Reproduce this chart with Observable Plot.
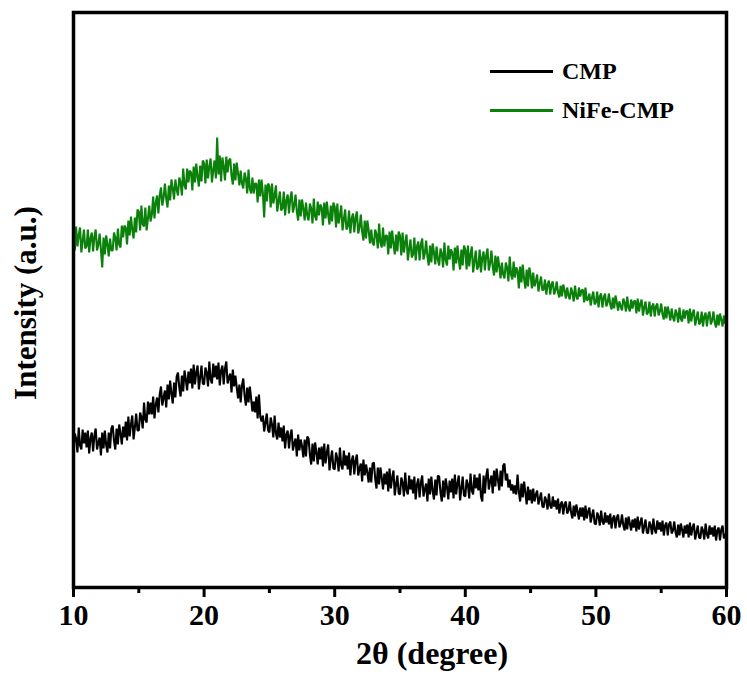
<!DOCTYPE html>
<html>
<head>
<meta charset="utf-8">
<script src="https://cdn.jsdelivr.net/npm/d3@7"></script>
<script src="https://cdn.jsdelivr.net/npm/@observablehq/plot@0.6"></script>
<style>
  html, body { margin: 0; padding: 0; background: #fff; }
  #chart { position: relative; width: 747px; height: 682px; }
  .leg { position: absolute; display: flex; align-items: center; height: 30px;
         font-family: "Liberation Serif", "Times New Roman", serif; font-weight: bold; font-size: 24px; color: #000; }
  .leg .sw { display: inline-block; width: 63px; height: 3px; margin-right: 9px; }
</style>
</head>
<body>
<div id="chart"></div>
<script>
// 2θ sampling: start 10°, step 0.1°
const thetaStart = 10;
const thetaStep = 0.1;
const xMajorTicks = [10, 20, 30, 40, 50, 60];
const xMinorTicks = [15, 25, 35, 45, 55];
const seriesNames = ["CMP", "NiFe-CMP"];
const seriesColors = ["#000000", "#0b800b"];

// NiFe-CMP intensity (a.u.), one row per degree (10.0 … 10.9, 11.0 … ), last value at 60.0
const nifeIntensity = [
368,347,371,351,362,370,345,356,368,349,
351,368,345,359,365,346,361,368,347,353,
364,348,330,360,343,362,353,341,359,347,
347,365,360,347,369,353,350,372,360,372,
370,353,377,362,381,368,359,380,365,388,
386,367,392,373,371,390,367,379,392,376,
383,401,379,395,402,384,402,410,392,400,
414,399,390,412,397,418,409,398,418,408,
402,420,415,402,429,412,408,429,415,427,
425,407,431,415,434,421,411,432,416,437,
434,414,438,419,431,439,415,427,437,419,
460,423,442,416,440,431,417,441,425,437,
439,422,413,434,417,435,424,412,427,414,
409,425,419,404,428,409,404,420,404,414,
414,395,418,401,418,404,380,413,396,414,
411,390,414,394,402,412,386,396,406,387,
389,406,382,397,403,384,399,406,385,392,
403,386,377,398,381,398,389,377,395,382,
377,394,389,374,399,381,377,396,382,393,
390,372,395,379,396,383,373,392,376,395,
391,370,394,374,382,392,367,378,388,368,
371,387,364,379,384,365,380,386,364,370,
383,366,357,377,359,377,367,354,368,355,
352,368,363,349,374,355,350,370,351,362,
362,343,366,349,367,354,343,363,346,366,
362,342,365,345,355,363,337,348,358,340,
343,360,337,351,356,337,353,359,338,344,
357,341,332,352,335,354,345,333,351,338,
332,349,344,330,355,337,332,352,338,348,
345,327,350,334,352,338,328,348,332,352,
348,328,352,331,343,351,325,336,347,328,
331,348,325,340,346,327,342,349,327,334,
347,331,322,342,325,341,331,319,335,323,
319,335,330,316,341,323,318,336,320,330,
327,309,331,315,333,319,309,328,311,330,
323,309,325,311,316,323,306,314,321,307,
308,318,303,313,317,303,313,316,303,307,
316,305,300,312,301,313,307,299,310,302,
298,310,305,296,312,301,298,310,301,307,
308,295,310,297,298,304,292,300,306,293,
295,306,290,301,304,290,300,304,291,295,
304,293,288,300,289,302,295,287,296,291,
287,299,295,286,301,290,286,298,289,296,
297,284,299,286,294,298,282,290,296,283,
285,296,281,291,294,281,291,294,282,286,
294,283,278,291,279,291,285,277,289,280,
276,288,284,275,290,279,276,288,279,286,
287,274,289,276,284,288,272,279,286,273,
275,286,271,281,285,271,282,286,273,277,
286,275,270,283,272,284,278,271,282,274,
277
];

// CMP intensity (a.u.), same sampling
const cmpIntensity = [
147,164,159,145,170,152,148,168,154,165,
150,167,144,159,165,146,162,169,148,155,
160,142,165,149,167,153,145,165,149,169,
172,157,148,169,153,173,164,153,171,160,
176,157,181,161,173,182,158,170,184,167,
167,185,180,169,195,178,175,196,183,195,
183,201,179,193,200,185,203,211,192,200,
207,190,213,198,217,204,194,215,200,221,
225,210,201,222,206,227,218,207,226,214,
229,209,233,213,225,232,208,220,232,214,
213,230,225,211,236,218,214,234,220,232,
218,235,212,227,232,213,229,236,214,220,
224,205,228,211,222,210,199,213,195,212,
219,202,192,210,195,211,199,186,196,185,
201,179,203,181,176,182,166,175,184,167,
165,180,173,160,182,164,158,175,160,170,
156,172,149,163,167,149,162,168,147,154,
159,141,163,147,158,151,140,158,141,161,
159,143,133,154,136,155,145,133,150,138,
151,131,154,134,145,153,127,138,147,129,
128,145,139,126,150,132,128,147,132,142,
128,145,122,137,142,123,137,143,122,129,
134,116,138,122,133,125,115,130,115,134,
135,119,109,130,113,130,120,108,124,113,
126,106,129,109,120,127,102,113,122,104,
103,120,115,101,125,107,103,122,108,118,
104,121,98,113,119,100,115,122,101,108,
114,96,119,103,121,107,98,118,102,122,
121,105,96,117,100,119,110,98,117,105,
119,99,123,103,114,122,97,109,121,102,
101,118,113,99,124,107,103,123,109,120,
107,124,101,96,122,104,121,129,108,116,
122,104,127,111,129,118,107,127,111,132,
134,117,124,110,118,107,113,104,112,103,
123,106,96,114,100,116,105,93,111,97,
108,94,109,96,103,107,93,99,105,91,
90,101,97,88,104,92,89,101,91,97,
88,99,84,93,96,83,93,96,84,87,
96,85,79,92,81,93,86,78,90,81,
90,77,92,79,86,90,75,82,88,74,
73,85,81,72,87,76,73,85,75,82,
73,84,69,79,82,69,80,83,70,74,
83,72,67,80,68,81,74,67,78,70,
79,66,81,68,75,80,64,71,78,65,
64,76,72,63,79,68,64,77,68,75,
66,77,62,72,75,62,73,76,64,67,
76,65,60,73,62,74,68,60,72,64,
73,60,75,62,70,74,58,65,72,60,
59,71,67,58,74,63,59,72,63,70,
61,72,57,67,70,57,68,72,59,63,
64
];

const toRows = (vals, name) => vals.map((v, i) => ({x: thetaStart + i * thetaStep, y: v, series: name}));
const data = [
  ...toRows(cmpIntensity, seriesNames[0]),
  ...toRows(nifeIntensity, seriesNames[1])
];

const font = "'Liberation Serif', 'Times New Roman', serif";

const chart = Plot.plot({
  width: 747,
  height: 682,
  marginTop: 12,
  marginLeft: 73,
  marginRight: 21,
  marginBottom: 95,
  style: {fontFamily: font, fontWeight: "bold", background: "#fff", color: "#000", overflow: "visible"},
  x: {domain: [10, 60]},
  y: {domain: [10, 585], axis: null},
  color: {domain: seriesNames, range: seriesColors},
  marks: [
    Plot.lineY(data, {x: "x", y: "y", z: "series", stroke: "series", strokeWidth: 2.1, strokeLinejoin: "miter"}),
    Plot.axisX(xMinorTicks, {tickSize: 6, strokeWidth: 3, tickFormat: () => "", label: null}),
    Plot.axisX(xMajorTicks, {tickSize: 10, tickPadding: 6, strokeWidth: 3, fontSize: 30, label: null}),
    Plot.frame({stroke: "#000", strokeWidth: 3.5}),
    Plot.text(["2θ (degree)"], {frameAnchor: "bottom", dy: 66, dx: 32, lineAnchor: "middle", textAnchor: "middle", fontSize: 32, fontWeight: "bold", fill: "#000"}),
    Plot.text(["Intensity (a.u.)"], {frameAnchor: "left", rotate: -90, dx: -47, dy: 3, lineAnchor: "middle", textAnchor: "middle", fontSize: 31, fontWeight: "bold", fill: "#000"})
  ]
});

const host = document.getElementById("chart");
host.appendChild(chart);

const legendTops = [56, 95];
seriesNames.forEach((name, i) => {
  const row = document.createElement("div");
  row.className = "leg";
  row.style.left = "490px";
  row.style.top = legendTops[i] + "px";
  const sw = document.createElement("span");
  sw.className = "sw";
  sw.style.background = seriesColors[i];
  row.appendChild(sw);
  row.appendChild(document.createTextNode(name));
  host.appendChild(row);
});
</script>
</body>
</html>
